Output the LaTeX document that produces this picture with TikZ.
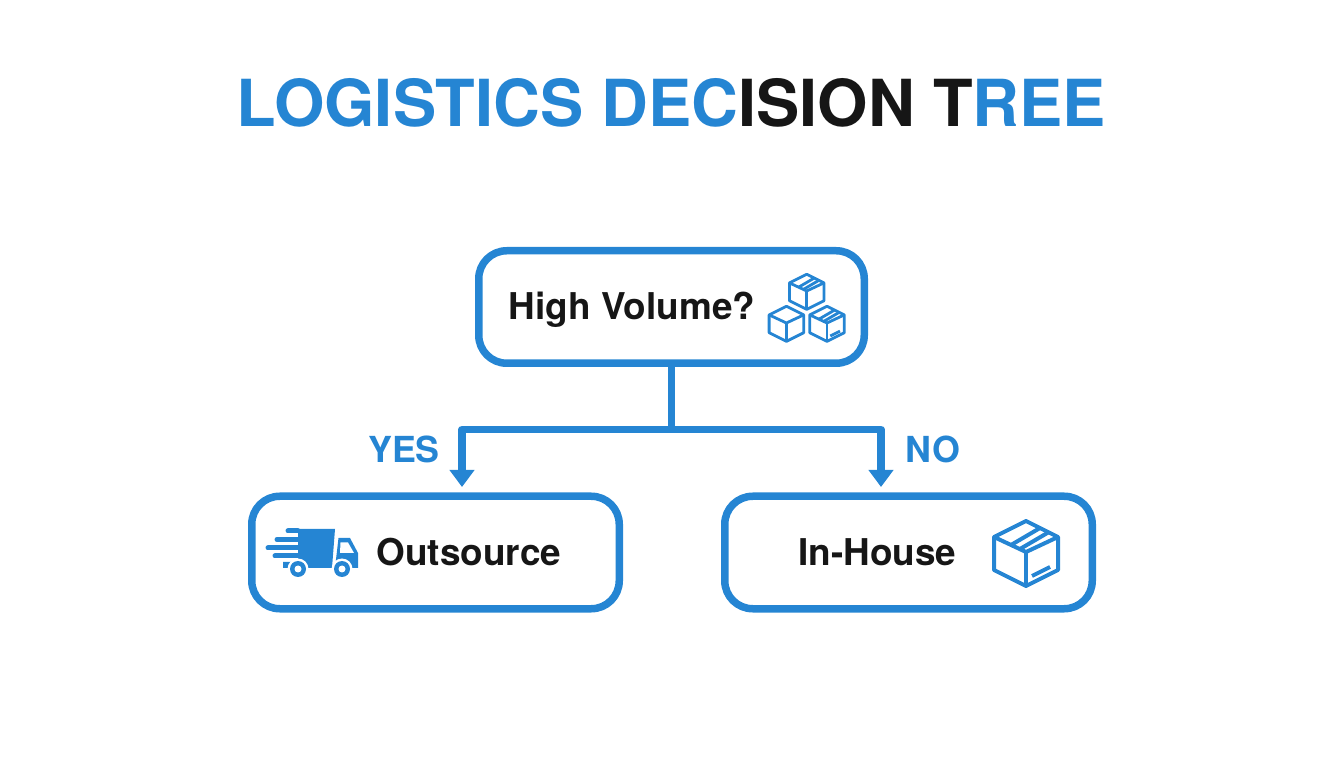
\documentclass[tikz,border=0pt]{standalone}
\usepackage{fontspec}
\setmainfont{TeX Gyre Heros}
\usetikzlibrary{arrows.meta}
\definecolor{treeblue}{HTML}{2585D3}
\definecolor{treeink}{HTML}{161616}
\begin{document}
\begin{tikzpicture}[x=0.2mm,y=-0.2mm]

\useasboundingbox (0,0) rectangle (1344,768);

% one carton, drawn round its centre; #4 adds tape or a tag
\newcommand*{\crate}[4]{
\begin{scope}[shift={(#1,#2)},scale=#3,line join=round]
\draw (0,-31) -- (32,-15) -- (32,18) -- (0,34) -- (-32,18) -- (-32,-15) -- cycle;
\draw (-32,-15) -- (0,0) -- (32,-15);
\draw (0,0) -- (0,34);
#4
\end{scope}
}
\newcommand*{\tape}{
\draw (-15,-7) -- (14,-24);
\draw (-6,-3) -- (23,-20);
}
\newcommand*{\tag}{
\draw (6,24) -- (24,15);
}

\tikzstyle {decision}=[draw=treeblue,line width=1.5mm,rounded corners=5.6mm,
     shape=rectangle,minimum width=77.1mm,minimum height=22.5mm];

\tikzstyle {choice}=[decision,minimum width=73.5mm];

\tikzstyle {heading}=[anchor=base west,inner sep=0pt,font=\bfseries\fontsize{36.9}{40}\selectfont];

\tikzstyle {boxtext}=[anchor=base,inner sep=0pt,text=treeink,font=\bfseries\fontsize{21}{24}\selectfont];

\tikzstyle {branch}=[anchor=base,inner sep=0pt,text=treeblue,font=\bfseries\fontsize{20.4}{24}\selectfont];

\tikzstyle {link}=[draw=treeblue,line width=1.5mm,line join=round];

\tikzstyle {drop}=[link,-{Triangle[width=4.8mm,length=3.4mm]}];

\tikzstyle {icon}=[draw=treeblue];

% Title
\draw (236,127) node [heading] (title)
  {\textcolor{treeblue}{LOGISTICS DEC}\textcolor{treeink}{ISION T}\textcolor{treeblue}{REE}};

% Boxes
\draw (671.5,307) node [decision] (volume) {};
\draw (435.5,552.5) node [choice] (outsource) {};
\draw (908.5,552.5) node [choice] (inhouse) {};

\draw (632,319.5) node [boxtext] (volumetext) {High Volume?};
\draw (469,565.5) node [boxtext] (outsourcetext) {Outsource};
\draw (877.5,565.5) node [boxtext] (inhousetext) {In-House};

% Tree of arrows
\coordinate (fork) at (671.5,429.5);
\coordinate (yestip) at (462,487);
\coordinate (notip) at (881,487);

\draw [link] (volume.south) -- (fork);
\draw [drop] (fork) -| (yestip);
\draw [drop] (fork) -| (notip);

\draw (404,463) node [branch] (yes) {YES};
\draw (933,463) node [branch] (no) {NO};

% Cartons by the question
\begin{scope}[icon,line width=0.56mm]
\crate{806.7}{291}{0.54}{\tape}
\crate{786.4}{323}{0.54}{}
\crate{827}{323}{0.54}{\tape\tag}
\end{scope}

% Carton by in-house
\begin{scope}[icon,line width=0.8mm]
\crate{1026}{552}{1}{\tape\tag}
\end{scope}

% Truck
\fill [treeblue] (298,529) -- (335,529) -- (332,568) -- (283,568) -- (283,562) -- (298,562) -- cycle;
\fill [treeblue] (338.5,538) -- (350,538) -- (358,553) -- (358,568) -- (335,568) -- cycle;
\fill [white] (340.5,542.5) -- (348,542.5) -- (354,553) -- (340,553) -- cycle;
\foreach \ya/\xa in {531/288,539.5/277,548/268,556/275}
  \draw [treeblue,line width=1mm,line cap=round] (\xa,\ya) -- (298,\ya);
\foreach \xa in {298,342} {
  \fill [white] (\xa,569) circle (2.1mm);
  \fill [treeblue] (\xa,569) circle (1.6mm);
  \fill [white] (\xa,569) circle (0.7mm);
}
\end{tikzpicture}
\end{document}
